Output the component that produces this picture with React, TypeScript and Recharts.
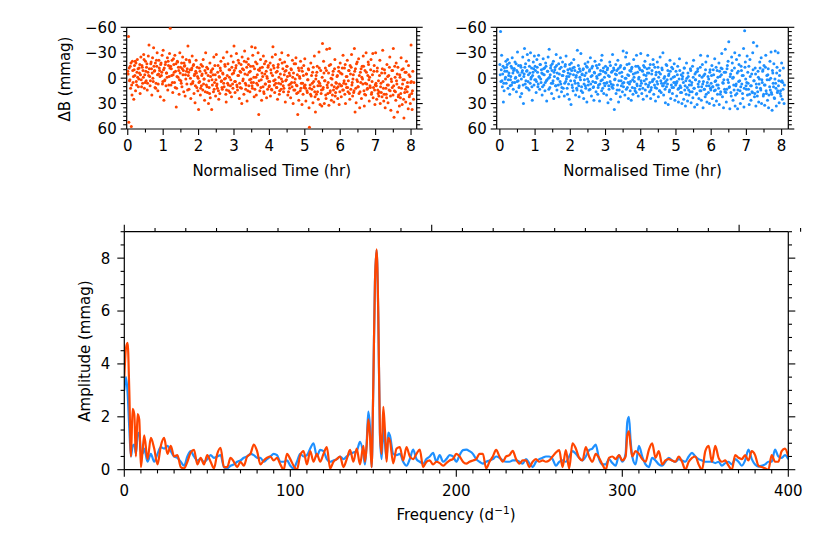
import { ScatterChart, Scatter, LineChart, Line, XAxis, YAxis } from 'recharts';

// observation times (hr), first frame set, shared by both stars
const TIME_HR = [
  0, 0.02, 0.03, 0.05, 0.07, 0.08, 0.1, 0.12, 0.13, 0.15, 0.17, 0.18, 0.2, 0.22, 0.23, 0.25, 0.27, 0.28, 0.3, 0.32, 0.33, 0.35, 0.37, 0.38, 0.4, 0.42, 0.43, 0.45, 0.47, 0.48, 0.5, 0.52, 0.53, 0.55, 0.57, 0.58, 0.6, 0.62, 0.63, 0.65, 0.67, 0.68, 0.7, 0.72, 0.73, 0.75, 0.77, 0.78, 0.8, 0.82, 0.83, 0.85, 0.87, 0.88, 0.9, 0.92, 0.93, 0.95, 0.97, 0.98,
  1, 1.02, 1.03, 1.05, 1.07, 1.08, 1.1, 1.12, 1.13, 1.15, 1.17, 1.18, 1.2, 1.22, 1.23, 1.25, 1.27, 1.28, 1.3, 1.32, 1.33, 1.35, 1.37, 1.38, 1.4, 1.42, 1.43, 1.45, 1.47, 1.48, 1.5, 1.52, 1.53, 1.55, 1.57, 1.58, 1.6, 1.62, 1.63, 1.65, 1.67, 1.68, 1.7, 1.72, 1.73, 1.75, 1.77, 1.78, 1.8, 1.82, 1.83, 1.85, 1.87, 1.88, 1.9, 1.92, 1.93, 1.95, 1.97, 1.98,
  2, 2.02, 2.03, 2.05, 2.07, 2.08, 2.1, 2.12, 2.13, 2.15, 2.17, 2.18, 2.2, 2.22, 2.23, 2.25, 2.27, 2.28, 2.3, 2.32, 2.33, 2.35, 2.37, 2.38, 2.4, 2.42, 2.43, 2.45, 2.47, 2.48, 2.5, 2.52, 2.53, 2.55, 2.57, 2.58, 2.6, 2.62, 2.63, 2.65, 2.67, 2.68, 2.7, 2.72, 2.73, 2.75, 2.77, 2.78, 2.8, 2.82, 2.83, 2.85, 2.87, 2.88, 2.9, 2.92, 2.93, 2.95, 2.97, 2.98,
  3, 3.02, 3.03, 3.05, 3.07, 3.08, 3.1, 3.12, 3.13, 3.15, 3.17, 3.18, 3.2, 3.22, 3.23, 3.25, 3.27, 3.28, 3.3, 3.32, 3.33, 3.35, 3.37, 3.38, 3.4, 3.42, 3.43, 3.45, 3.47, 3.48, 3.5, 3.52, 3.53, 3.55, 3.57, 3.58, 3.6, 3.62, 3.63, 3.65, 3.67, 3.68, 3.7, 3.72, 3.73, 3.75, 3.77, 3.78, 3.8, 3.82, 3.83, 3.85, 3.87, 3.88, 3.9, 3.92, 3.93, 3.95, 3.97, 3.98,
  4, 4.02, 4.03, 4.05, 4.07, 4.08, 4.1, 4.12, 4.13, 4.15, 4.17, 4.18, 4.2, 4.22, 4.23, 4.25, 4.27, 4.28, 4.3, 4.32, 4.33, 4.35, 4.37, 4.38, 4.4, 4.42, 4.43, 4.45, 4.47, 4.48, 4.5, 4.52, 4.53, 4.55, 4.57, 4.58, 4.6, 4.62, 4.63, 4.65, 4.67, 4.68, 4.7, 4.72, 4.73, 4.75, 4.77, 4.78, 4.8, 4.82, 4.83, 4.85, 4.87, 4.88, 4.9, 4.92, 4.93, 4.95, 4.97, 4.98,
  5, 5.02, 5.03, 5.05, 5.07, 5.08, 5.1, 5.12, 5.13, 5.15, 5.17, 5.18, 5.2, 5.22, 5.23, 5.25, 5.27, 5.28, 5.3, 5.32, 5.33, 5.35, 5.37, 5.38, 5.4, 5.42, 5.43, 5.45, 5.47, 5.48, 5.5, 5.52, 5.53, 5.55, 5.57, 5.58, 5.6, 5.62, 5.63, 5.65, 5.67, 5.68, 5.7, 5.72, 5.73, 5.75, 5.77, 5.78, 5.8, 5.82, 5.83, 5.85, 5.87, 5.88, 5.9, 5.92, 5.93, 5.95, 5.97, 5.98,
  6, 6.02, 6.03, 6.05, 6.07, 6.08, 6.1, 6.12, 6.13, 6.15, 6.17, 6.18, 6.2, 6.22, 6.23, 6.25, 6.27, 6.28, 6.3, 6.32, 6.33, 6.35, 6.37, 6.38, 6.4, 6.42, 6.43, 6.45, 6.47, 6.48, 6.5, 6.52, 6.53, 6.55, 6.57, 6.58, 6.6, 6.62, 6.63, 6.65, 6.67, 6.68, 6.7, 6.72, 6.73, 6.75, 6.77, 6.78, 6.8, 6.82, 6.83, 6.85, 6.87, 6.88, 6.9, 6.92, 6.93, 6.95, 6.97, 6.98,
  7, 7.02, 7.03, 7.05, 7.07, 7.08, 7.1, 7.12, 7.13, 7.15, 7.17, 7.18, 7.2, 7.22, 7.23, 7.25, 7.27, 7.28, 7.3, 7.32, 7.33, 7.35, 7.37, 7.38, 7.4, 7.42, 7.43, 7.45, 7.47, 7.48, 7.5, 7.52, 7.53, 7.55, 7.57, 7.58, 7.6, 7.62, 7.63, 7.65, 7.67, 7.68, 7.7, 7.72, 7.73, 7.75, 7.77, 7.78, 7.8, 7.82, 7.83, 7.85, 7.87, 7.88, 7.9, 7.92, 7.93, 7.95, 7.97, 7.98,
  8, 8.02, 8.03, 8.05, 8.07, 8.08,
];

// ΔB (mmag), orange star, first frame set
const DB_ORANGE = [
  -8, -49, 52, 3, -14, 12, 57, 20, -20, 5, 25, -10, -3, 15, -18, 8, -22, -1, 10, -12, -6, 18, -25, 2, -15, 6, -9, -28, 12, -4, -20, 3, -13, 14, -7, -26, -39, -2, 9, -17, -11, 20, -24, 4, -36, -8, 11, -18, 6, -14, -30, 15, -5, -21, -9, 22, -16, -3, -27, 7,
  -33, 26, -12, 2, -19, 9, -6, -24, 14, -15, -2, -29, -59, 8, -11, -21, 17, -4, -16, 5, -27, -8, 34, 12, -20, -1, -13, 19, -30, -6, 3, -18, 10, -25, -9, 16, -14, 21, -4, -22, 7, -11, -38, -7, 13, -19, 0, 24, -10, -26, 6, -15, 18, -3, 29, -8, -21, 11, -2, 15,
  37, -12, 4, 20, -16, 9, -5, 14, -22, 1, 26, -9, -30, 8, -13, 17, -3, 30, 11, -18, 23, -7, 37, 2, -11, 16, -25, 5, -4, 21, -28, 7, 12, -15, 25, -2, 18, -9, -20, 3, 13, -6, -24, 10, 1, -14, 19, 28, -31, 6, -17, 15, -1, -10, 9, -26, 22, -5, 12, -19,
  -38, 4, 17, -12, -29, 8, 14, -21, -3, 24, -8, 11, -16, 30, -25, 3, -10, 19, -32, 6, 13, -19, 27, -4, -23, 9, -7, 16, -14, 1, -37, 12, -27, 5, 22, -11, -36, -1, 20, -17, 8, -30, 43, -9, 15, -22, 2, 26, -13, 10, -26, 18, -5, 7, -20, 23, -2, 13, -15, 4,
  9, -18, 21, -6, 14, -25, -37, 3, -12, 17, -28, 6, 11, -8, 25, -16, -1, 19, -22, 7, 13, -30, 4, -11, 16, -4, -19, 28, -9, 2, -14, 20, -27, 8, 12, -3, 23, -10, 5, -21, 30, -6, -17, 14, 1, -24, 18, 9, 43, -12, 26, -2, 15, -20, 6, 31, -8, 19, -15, 11,
  -23, 12, 27, -5, 17, 2, -11, 35, 58, 8, -18, 21, 13, -7, 29, 4, -26, 16, 40, -3, 19, -14, 9, 25, -31, 6, 31, -9, 14, 33, -41, 11, -20, 30, 3, -12, 24, -34, 8, 18, -6, 32, -35, 15, -16, 26, 1, 20, -8, 28, 10, -22, 17, 5, 12, -3, 24, -13, 31, 7,
  -18, 9, 22, -5, 14, -27, 6, -12, 19, 30, -2, 11, -21, 16, 3, -9, 25, -15, 13, -28, 8, 21, -4, 17, -35, 40, -11, 29, 2, -19, 10, -23, 18, 35, -7, 5, 24, -14, 1, -26, 15, 33, -9, 20, -30, 7, 12, -3, -16, 27, -1, 11, -22, 19, 4, -29, 23, -8, 14, 31,
  -30, 9, 25, -12, 18, 3, 16, -21, 30, 6, -6, 22, -33, 12, 27, -10, 35, 1, 19, -16, 8, 29, -3, 14, -25, 21, 38, 4, 11, -9, -35, 46, 15, -1, 26, -18, 7, 40, -13, 20, 33, -4, 23, -24, 12, 31, 2, -11, 47, 17, -7, 28, -20, 10, 5, 36, -15, 22, -2, 30,
  -39, 18, 37, -8, 25, 5,
];

// ΔB (mmag), blue star, first frame set
const DB_BLUE = [
  -16, -55, 4, -27, 10, -5, 28, 15, -12, 1, -20, 6, -8, -22, 12, -3, -18, 19, 2, -14, 8, -24, -6, 13, -11, 5, -19, -1, 16, -9, -31, 3, -15, 9, -4, 22, -13, 18, -7, -25, 30, -2, -35, 7, -17, 11, -9, -28, 4, -21, 14, -6, -30, 1, -12, 26, -3, -19, 8, -26,
  -14, 2, 17, -22, -7, 10, -27, -1, 13, -16, 5, -10, 20, -5, -23, 8, -12, 15, -18, 3, 27, -8, -25, 0, -34, 11, -4, -15, 18, -9, 6, -20, 24, -2, -13, 9, -28, 14, -6, 1, -17, 22, -11, -24, 7, 16, -3, -19, 12, -8, 21, -14, 4, -26, -2, 19, -10, 7, 25, -16,
  -5, 31, -18, 8, -12, 15, -22, 3, -9, 20, -3, 12, -33, 6, -15, 22, -1, -8, -29, 10, -4, 17, -11, 24, 2, -17, 9, -6, 28, -13, -19, 4, 14, -10, -24, 7, 21, -3, -14, 11, 26, -7, -20, 5, 16, -2, -12, 19, 8, -16, 27, -5, 3, -21, -27, 12, -8, 18, -1, 9,
  -14, 6, 20, -10, 29, -3, 13, -19, 4, 25, -7, 10, -28, 8, -12, 37, 1, -5, 18, -9, 14, -21, 28, 3, -6, 22, -15, 9, -2, 16, -32, 5, -11, 20, -25, 0, -30, 11, -4, 24, -17, 7, 15, -8, 26, -13, 2, 19, -22, 4, 12, -6, 17, -27, 9, -14, 21, -1, 13, -10,
  -29, 6, 18, -8, 25, -15, 3, -20, 14, -3, 21, -11, -27, 8, -6, 16, -16, 24, 11, -9, 4, -22, 19, 1, -13, 27, -4, 12, -19, 7, 22, -7, 15, -25, 3, 17, -12, 9, -30, 20, 6, -2, 29, -16, 10, 2, -9, 31, -5, 14, -21, 24, 8, -13, 18, -1, 11, -17, 26, 5,
  -8, 21, 4, -14, 28, 12, -23, 9, 17, -4, 30, 1, -6, 25, -12, 14, 33, 3, -18, 11, 27, -2, 20, 8, 16, -9, 29, 5, -14, 23, -21, 12, 34, 2, -7, 19, 31, -11, 7, 24, -3, 15, -27, 26, 10, -16, 35, 4, 13, -5, 22, -19, 9, 28, -26, 17, 1, 30, -10, 12,
  6, -15, 24, 10, -4, 32, -23, 14, 3, 27, -9, 19, 8, -18, 31, -2, 16, -12, -29, 22, 5, 35, -7, 13, -34, 17, 28, -11, 2, -20, -43, 10, 36, -5, 21, -25, -18, 26, -1, 14, -30, 33, 9, -22, 18, 36, -8, 4, -27, 15, 30, -14, 7, -3, 24, -35, 34, -56, -19, 1,
  13, -26, 20, 6, -14, 31, -22, 9, 26, -5, 17, -30, -42, 3, 22, -12, 33, 7, -38, 16, -8, 28, 1, -19, 12, -24, 30, 5, -10, 21, -15, 32, 8, -27, 18, -3, 26, -11, 35, 2, -20, 14, -31, 19, 38, -6, 10, -17, 24, -32, 6, 33, -13, 17, -30, 3, 29, -9, 15, 21,
  -18, 25, 5, -12, 30, 8,
];

// observation times (hr), second frame set
const TIME_HR_2 = [
  0.01, 0.04, 0.06, 0.09, 0.11, 0.14, 0.16, 0.19, 0.21, 0.24, 0.26, 0.29, 0.31, 0.34, 0.36, 0.39, 0.41, 0.44, 0.46, 0.49, 0.51, 0.54, 0.56, 0.59, 0.61, 0.64, 0.66, 0.69, 0.71, 0.74, 0.76, 0.79, 0.81, 0.84, 0.86, 0.89, 0.91, 0.94, 0.96, 0.99,
  1.01, 1.04, 1.06, 1.09, 1.11, 1.14, 1.16, 1.19, 1.21, 1.24, 1.26, 1.29, 1.31, 1.34, 1.36, 1.39, 1.41, 1.44, 1.46, 1.49, 1.51, 1.54, 1.56, 1.59, 1.61, 1.64, 1.66, 1.69, 1.71, 1.74, 1.76, 1.79, 1.81, 1.84, 1.86, 1.89, 1.91, 1.94, 1.96, 1.99,
  2.01, 2.04, 2.06, 2.09, 2.11, 2.14, 2.16, 2.19, 2.21, 2.24, 2.26, 2.29, 2.31, 2.34, 2.36, 2.39, 2.41, 2.44, 2.46, 2.49, 2.51, 2.54, 2.56, 2.59, 2.61, 2.64, 2.66, 2.69, 2.71, 2.74, 2.76, 2.79, 2.81, 2.84, 2.86, 2.89, 2.91, 2.94, 2.96, 2.99,
  3.01, 3.04, 3.06, 3.09, 3.11, 3.14, 3.16, 3.19, 3.21, 3.24, 3.26, 3.29, 3.31, 3.34, 3.36, 3.39, 3.41, 3.44, 3.46, 3.49, 3.51, 3.54, 3.56, 3.59, 3.61, 3.64, 3.66, 3.69, 3.71, 3.74, 3.76, 3.79, 3.81, 3.84, 3.86, 3.89, 3.91, 3.94, 3.96, 3.99,
  4.01, 4.04, 4.06, 4.09, 4.11, 4.14, 4.16, 4.19, 4.21, 4.24, 4.26, 4.29, 4.31, 4.34, 4.36, 4.39, 4.41, 4.44, 4.46, 4.49, 4.51, 4.54, 4.56, 4.59, 4.61, 4.64, 4.66, 4.69, 4.71, 4.74, 4.76, 4.79, 4.81, 4.84, 4.86, 4.89, 4.91, 4.94, 4.96, 4.99,
  5.01, 5.04, 5.06, 5.09, 5.11, 5.14, 5.16, 5.19, 5.21, 5.24, 5.26, 5.29, 5.31, 5.34, 5.36, 5.39, 5.41, 5.44, 5.46, 5.49, 5.51, 5.54, 5.56, 5.59, 5.61, 5.64, 5.66, 5.69, 5.71, 5.74, 5.76, 5.79, 5.81, 5.84, 5.86, 5.89, 5.91, 5.94, 5.96, 5.99,
  6.01, 6.04, 6.06, 6.09, 6.11, 6.14, 6.16, 6.19, 6.21, 6.24, 6.26, 6.29, 6.31, 6.34, 6.36, 6.39, 6.41, 6.44, 6.46, 6.49, 6.51, 6.54, 6.56, 6.59, 6.61, 6.64, 6.66, 6.69, 6.71, 6.74, 6.76, 6.79, 6.81, 6.84, 6.86, 6.89, 6.91, 6.94, 6.96, 6.99,
  7.01, 7.04, 7.06, 7.09, 7.11, 7.14, 7.16, 7.19, 7.21, 7.24, 7.26, 7.29, 7.31, 7.34, 7.36, 7.39, 7.41, 7.44, 7.46, 7.49, 7.51, 7.54, 7.56, 7.59, 7.61, 7.64, 7.66, 7.69, 7.71, 7.74, 7.76, 7.79, 7.81, 7.84, 7.86, 7.89, 7.91, 7.94, 7.96, 7.99,
  8.01, 8.04,
];

const DB_ORANGE_2 = [
  -5, -12, 2, -18, 8, -9, -2, -15, -20, 4, -7, -11, 1, -16, -4, 10, -13, -1, -22, 5, -8, -17, 6, -3, -11, 3, -19, -6, 0, -14, -9, 12, -21, -4, 7, -12, -2, -18, -7, 4,
  -10, 3, -16, -6, -1, -20, 8, -12, -14, -3, 5, -23, -7, 11, -17, -2, -19, -9, 2, -13, 6, -11, -4, -18, -15, 1, -8, 14, -3, -21, -10, 7, -12, 4, -16, -5, 9, -6, -13, 0,
  5, -8, 12, -3, -14, 7, 1, 16, -6, 10, -11, 3, 18, -2, -9, 8, -4, 13, -15, 2, 9, -7, 15, -1, -12, 4, 11, -5, 6, -16, 0, 14, -3, 8, -10, 17, 2, -13, 7, -6,
  -9, 4, -15, 10, -3, -18, 6, -7, 12, -11, 1, -20, -5, 8, -13, 15, -16, 2, -8, 5, 9, -14, -1, 13, -19, 6, -4, -10, 3, -12, 11, -6, -2, 16, -17, 7, -8, 0, -13, 10,
  4, -10, 13, -3, -15, 8, 2, -7, 11, -13, 6, 15, -5, 1, -18, 9, 12, -8, 3, -14, -2, 16, -6, 7, -11, 10, -1, 14, 5, -17, 8, -4, 17, -9, 0, 12, -12, 6, -3, 9,
  8, -5, 15, 2, -10, 12, 19, -3, 6, -13, 10, 22, 1, -7, 16, 4, -12, 9, 18, -1, 13, -6, 3, 20, -9, 11, 5, -15, 17, 0, 8, -4, 14, -11, 21, 6, -2, 10, -8, 16,
  -6, 9, -12, 14, 3, -16, 7, -2, 11, -9, 18, -5, -13, 5, 1, 15, -8, 12, -17, 4, 10, -3, 16, -11, -1, 7, -14, 19, 6, -7, 13, -19, 2, 9, -10, 17, -4, 11, -15, 8,
  6, -8, 14, 21, -3, 10, 17, -11, 4, 19, -6, 12, 23, -2, 8, -13, 15, 1, -9, 20, 9, -14, 16, 3, -5, 22, 11, -1, 18, -10, 7, 25, 2, 13, -7, 16, 10, -4, 20, 5,
  4, 15,
];

const DB_BLUE_2 = [
  -4, -10, 3, -14, 6, -8, -1, -13, -16, 2, -6, 9, -2, -12, 5, -9, -11, 0, -17, 4, -7, 11, -3, -15, 1, -9, 8, -5, -13, 3, -8, 12, -4, -14, 6, -1, 10, -7, -11, 2,
  -9, 4, -13, 7, -2, -16, 1, -6, 10, -11, -4, 5, -14, 2, -8, 13, -1, -12, 6, -17, 3, -7, -10, 9, -15, 0, 8, -5, 4, -13, 11, -3, -8, 6, -16, 1, 12, -6, -2, -11,
  3, -9, 11, -4, -13, 6, -1, 14, -7, 9, -11, 2, 15, -5, -10, 7, -3, 12, -14, 1, 8, -8, 13, -2, -12, 4, 10, -6, 5, -15, 0, 11, -4, 7, -9, 15, 2, -12, 6, -7,
  -6, 5, -12, 9, -2, -15, 7, -8, 12, -10, 2, -16, -4, 8, -11, 14, -13, 3, -7, 6, 10, -12, 0, 13, -16, 5, -3, -9, 4, -11, 11, -5, -1, 15, -14, 7, -7, 1, -12, 9,
  3, -9, 12, -4, -13, 7, 1, -6, 10, -12, 5, 14, -5, 2, -16, 8, 11, -7, 4, -13, -1, 15, -5, 6, -10, 9, 0, 13, 4, -15, 7, -3, 16, -8, 1, 11, -11, 5, -2, 8,
  6, -4, 13, 1, -9, 11, 17, -2, 5, -12, 9, 19, 0, -6, 14, 3, -11, 8, 16, -1, 12, -5, 2, 18, -8, 10, 4, -13, 15, -1, 7, -3, 13, -10, 19, 5, -2, 9, -7, 14,
  -3, 10, -10, 15, 4, -13, 8, -1, 12, -8, 19, -4, -11, 6, 2, 16, -7, 13, -15, 5, 11, -2, 17, -9, 0, 8, -12, 20, 7, -6, 14, -16, 3, 10, -9, 18, -3, 12, -13, 9,
  5, -7, 13, 19, -2, 9, 16, -10, 3, 18, -5, 11, 21, -1, 7, -12, 14, 2, -8, 19, 8, -13, 15, 2, -4, 20, 10, 0, 17, -9, 6, 23, 1, 12, -6, 15, 9, -3, 18, 4,
  3, 13,
];

// amplitude spectrum: frequency (1/d) and amplitude (mmag)
const FREQ = [
  0, 1, 2, 3, 4, 5, 6, 7, 8, 9, 10, 11, 12,
  14, 16, 18, 20, 22, 24, 26, 28, 30, 32,
  34, 36, 38, 40, 42, 44, 46, 48, 50, 52,
  54, 56, 58, 60, 62, 64, 66, 68, 70, 72,
  74, 76, 78, 80, 82, 84, 86, 88, 90, 92,
  94, 96, 98, 100, 102, 104, 106, 108, 110, 112,
  114, 116, 118, 120, 122, 124, 126, 128, 130, 132,
  134, 136, 138, 140, 142, 144,
  145, 146, 147, 148, 149, 150, 151, 152, 153, 154, 155, 156, 157, 158, 159, 160,
  162, 164, 166, 168, 170, 172, 174, 176, 178, 180,
  182, 184, 186, 188, 190, 192, 194, 196, 198, 200,
  202, 204, 206, 208, 210, 212, 214, 216, 218, 220,
  222, 224, 226, 228, 230, 232, 234, 236, 238, 240,
  242, 244, 246, 248, 250, 252, 254, 256, 258, 260,
  262, 264, 266, 268, 270, 272, 274, 276, 278, 280,
  282, 284, 286, 288, 290, 292, 294, 296, 298, 300,
  302, 303, 304, 305, 306,
  308, 310, 312, 314, 316, 318, 320, 322, 324, 326,
  328, 330, 332, 334, 336, 338, 340, 342, 344, 346,
  348, 350, 352, 354, 356, 358, 360, 362, 364, 366,
  368, 370, 372, 374, 376, 378, 380, 382, 384, 386,
  388, 390, 392, 394, 396, 398, 400,
];

const AMP_ORANGE = [
  3.5, 4.6, 4.8, 3.0, 0.5, 2.3, 2.1, 0.5, 2.1, 1.9, 0.1, 0.7, 1.3,
  0.4, 1.2, 0.8, 0.2, 0.9, 1.2, 0.6, 0.9, 0.5, 0.55,
  0.1, 0.05, 0.3, 0.65, 0.75, 0.2, 0.45, 0.2, 0.55, 0.3,
  0.05, 0.6, 0.83, 0.1, 0.1, 0.45, 0.3, 0.1, 0.3, 0.15,
  0.5, 0.6, 0.95, 0.7, 0.2, 0.35, 0.45, 0.5, 0.35, 0.45,
  0.2, 0.0, 0.6, 0.4, 0.15, 0.0, 0.55, 0.7, 0.2, 0.7,
  0.3, 0.6, 0.3, 0.6, 0.85, 0.05, 0.3, 0.4, 0.5, 0.1,
  0.4, 0.75, 0.3, 0.8, 0.2, 0.9,
  0.3, 0.9, 1.9, 1.3, 0.1, 3.2, 7.1, 8.33, 5.9, 1.4, 0.6, 2.38, 1.5, 0.3, 1.2, 1.1,
  0.24, 0.8, 0.85, 0.35, 0.85, 0.5, 0.4, 0.6, 0.76, 0.1,
  0.3, 0.35, 0.2, 0.3, 0.25, 0.15, 0.25, 0.35, 0.4, 0.6,
  0.5, 0.3, 0.23, 0.3, 0.35, 0.4, 0.6, 0.6, 0.05, 0.3,
  0.5, 0.75, 0.5, 0.3, 0.5, 0.55, 0.71, 0.4, 0.23, 0.35,
  0.35, 0.1, 0.3, 0.4, 0.3, 0.35, 0.3, 0.35, 0.5, 0.65,
  0.74, 0.1, 0.74, 0.05, 1.0, 0.8, 0.45, 0.35, 0.85, 0.5,
  0.3, 0.6, 0.45, 0.2, 0.0, 0.45, 0.5, 0.4, 0.55, 0.35,
  0.5, 1.3, 1.45, 0.9, 0.5,
  0.7, 0.6, 0.4, 0.3, 0.75, 1.0, 0.45, 0.7, 0.2, 0.35,
  0.4, 0.35, 0.3, 0.5, 0.3, 0.0, 0.3, 0.45, 0.5, 0.2,
  0.0, 0.7, 0.9, 0.3, 0.9, 0.45, 0.3, 0.35, 0.15, 0.0,
  0.55, 0.45, 0.4, 0.55, 0.35, 0.7, 0.55, 0.15, 0.1, 0.05,
  0.0, 0.55, 0.3, 0.3, 0.7, 0.8, 0.5,
];

const AMP_BLUE = [
  3.0, 3.5, 2.9, 1.6, 0.5, 0.9, 0.95, 0.6, 1.3, 1.4, 0.7, 0.6, 0.8,
  0.3, 0.6, 0.3, 0.6, 0.85, 0.8, 0.9, 0.7, 0.5, 0.45,
  0.3, 0.15, 0.5, 0.7, 0.5, 0.35, 0.4, 0.3, 0.4, 0.55,
  0.45, 0.5, 0.55, 0.1, 0.05, 0.15, 0.2, 0.3, 0.35, 0.45,
  0.5, 0.6, 0.55, 0.45, 0.45, 0.3, 0.4, 0.5, 0.6, 0.55,
  0.3, 0.3, 0.35, 0.15, 0.05, 0.3, 0.6, 0.5, 0.55, 0.8,
  1.0, 0.5, 0.75, 0.7, 0.4, 0.3, 0.35, 0.4, 0.5, 0.4,
  0.5, 0.6, 0.65, 0.7, 1.05, 0.6,
  0.2, 1.0, 2.2, 1.6, 0.1, 3.2, 7.1, 8.3, 5.8, 1.3, 0.4, 1.6, 1.0, 0.4, 1.4, 1.3,
  0.6, 0.55, 0.6, 0.3, 0.15, 0.4, 0.76, 0.4, 0.3, 0.23,
  0.4, 0.5, 0.64, 0.3, 0.55, 0.3, 0.4, 0.55, 0.5, 0.3,
  0.55, 0.74, 0.76, 0.7, 0.6, 0.4, 0.3, 0.23, 0.3, 0.35,
  0.4, 0.5, 0.45, 0.35, 0.3, 0.3, 0.35, 0.35, 0.3, 0.23,
  0.4, 0.25, 0.1, 0.3, 0.4, 0.45, 0.5, 0.5, 0.4, 0.15,
  0.3, 0.35, 0.3, 0.5, 0.7, 0.6, 0.45, 0.35, 0.5, 0.74,
  0.8, 0.95, 0.4, 0.2, 0.2, 0.4, 0.25, 0.15, 0.55, 0.3,
  0.6, 1.8, 2.0, 1.1, 0.5,
  0.2, 0.9, 0.5, 0.2, 0.1, 0.45, 0.35, 0.2, 0.15, 0.3,
  0.45, 0.35, 0.3, 0.4, 0.35, 0.3, 0.5, 0.64, 0.5, 0.4,
  0.35, 0.3, 0.3, 0.3, 0.25, 0.3, 0.15, 0.25, 0.3, 0.2,
  0.4, 0.3, 0.15, 0.35, 0.76, 0.4, 0.2, 0.12, 0.15, 0.2,
  0.3, 0.3, 0.76, 0.5, 0.45, 0.55, 0.4,
];

// tick positions
const TIME_MAJOR = [0, 1, 2, 3, 4, 5, 6, 7, 8];
const TIME_TICKS = [0, 0.5, 1, 1.5, 2, 2.5, 3, 3.5, 4, 4.5, 5, 5.5, 6, 6.5, 7, 7.5, 8];
const DB_MAJOR = [-60, -30, 0, 30, 60];
const DB_TICKS = [-60, -55, -50, -45, -40, -35, -30, -25, -20, -15, -10, -5, 0, 5, 10, 15, 20, 25, 30, 35, 40, 45, 50, 55, 60];
const FREQ_MAJOR = [0, 100, 200, 300, 400];
const FREQ_TICKS = [0, 10, 20, 30, 40, 50, 60, 70, 80, 90, 100, 110, 120, 130, 140, 150, 160, 170, 180, 190, 200, 210, 220, 230, 240, 250, 260, 270, 280, 290, 300, 310, 320, 330, 340, 350, 360, 370, 380, 390, 400];
const AMP_MAJOR = [0, 2, 4, 6, 8];
const AMP_TICKS = [0, 0.5, 1, 1.5, 2, 2.5, 3, 3.5, 4, 4.5, 5, 5.5, 6, 6.5, 7, 7.5, 8, 8.5, 9];

const ORANGE = '#FF4500';
const BLUE = '#1E90FF';
const FONT = '"DejaVu Sans", sans-serif';
const AXIS = { stroke: '#000', strokeWidth: 1.2 };

const fmt = (v: number) => (v < 0 ? '\u2212' + Math.abs(v) : String(v));

// draws matplotlib-style outward ticks; labels only on majors of labelled sides
const FrameTick = (props: any) => {
  const { x, y, payload, side, majors, major, minor, gap, label } = props;
  const v = payload.value;
  const isMajor = majors.includes(v);
  const len = isMajor ? major : minor;
  let line = null;
  let text = null;
  if (side === 'bottom') {
    line = <line x1={x} y1={y} x2={x} y2={y + len} />;
    if (label && isMajor)
      text = <text x={x} y={y + gap} textAnchor="middle">{fmt(v)}</text>;
  } else if (side === 'top') {
    line = <line x1={x} y1={y} x2={x} y2={y - len} />;
  } else if (side === 'left') {
    line = <line x1={x} y1={y} x2={x - len} y2={y} />;
    if (label && isMajor)
      text = <text x={x - gap} y={y + 5.4} textAnchor="end">{fmt(v)}</text>;
  } else {
    line = <line x1={x} y1={y} x2={x + len} y2={y} />;
  }
  return (
    <g>
      <g stroke="#000" strokeWidth={1.1}>{line}</g>
      {text && <g fill="#000" stroke="none" fontSize={15} fontFamily={FONT}>{text}</g>}
    </g>
  );
};

// axes get 1px of room (a zero-size axis is not drawn), so margins are 1px smaller
const axisProps = { allowDataOverflow: true, interval: 0 as const, tickSize: 0, tickMargin: 0, tickLine: false, axisLine: AXIS };

const timeData = (times: number[], values: number[]) =>
  times.map((t, i) => ({ t, db: values[i] })).filter((d) => d.db !== undefined);

function LightCurve({ values, values2, color, left, right, domain }: any) {
  const points = [...timeData(TIME_HR, values), ...timeData(TIME_HR_2, values2)];
  const tickX = (side: string, label: boolean) => (
    <FrameTick side={side} majors={TIME_MAJOR} major={6} minor={3.5} gap={21.5} label={label} />
  );
  const tickY = (side: string, label: boolean) => (
    <FrameTick side={side} majors={DB_MAJOR} major={6} minor={3.5} gap={10} label={label} />
  );
  return (
    <div style={{ position: 'absolute', left: 0, top: 0 }}>
      <ScatterChart width={830} height={553} margin={{ top: 26.3, bottom: 423, left: left - 1, right: right - 1 }}>
        <XAxis xAxisId="b" type="number" dataKey="t" domain={domain} ticks={TIME_TICKS} height={1} {...axisProps} tick={tickX('bottom', true)} />
        <XAxis xAxisId="t" orientation="top" type="number" domain={domain} ticks={TIME_TICKS} height={1} {...axisProps} tick={tickX('top', false)} />
        <YAxis yAxisId="l" type="number" dataKey="db" reversed domain={[-60, 60]} ticks={DB_TICKS} width={1} {...axisProps} tick={tickY('left', true)} />
        <YAxis yAxisId="r" orientation="right" type="number" reversed domain={[-60, 60]} ticks={DB_TICKS} width={1} {...axisProps} tick={tickY('right', false)} />
        <Scatter xAxisId="b" yAxisId="l" data={points} isAnimationActive={false}
          shape={(p: any) => <circle cx={p.cx} cy={p.cy} r={1.5} fill={color} />} />
      </ScatterChart>
    </div>
  );
}

export default function App() {
  const spectrum = FREQ.map((f, i) => ({ f, orange: AMP_ORANGE[i], blue: AMP_BLUE[i] }));
  const tickF = (side: string, label: boolean) => (
    <FrameTick side={side} majors={FREQ_MAJOR} major={7} minor={3.7} gap={26.5} label={label} />
  );
  const tickA = (side: string, label: boolean) => (
    <FrameTick side={side} majors={AMP_MAJOR} major={7} minor={3.7} gap={14} label={label} />
  );

  return (
    <div style={{ position: 'absolute', left: 0, top: 0, width: 830, height: 553, background: '#fff', fontFamily: FONT }}>
      <LightCurve values={DB_ORANGE} values2={DB_ORANGE_2} color={ORANGE} left={126.7} right={413.3} domain={[-0.03, 8.16]} />
      <LightCurve values={DB_BLUE} values2={DB_BLUE_2} color={BLUE} left={496.7} right={41.7} domain={[-0.09, 8.19]} />

      <div style={{ position: 'absolute', left: 0, top: 0 }}>
        <LineChart width={830} height={553} data={spectrum} margin={{ top: 230.7, bottom: 82.3, left: 123.3, right: 40.7 }}>
          <XAxis xAxisId="b" type="number" dataKey="f" domain={[0, 400]} ticks={FREQ_TICKS} height={1} {...axisProps} tick={tickF('bottom', true)} />
          <XAxis xAxisId="t" orientation="top" type="number" domain={[0, 400]} ticks={FREQ_TICKS} height={1} {...axisProps} tick={tickF('top', false)} />
          <YAxis yAxisId="l" type="number" domain={[0, 9]} ticks={AMP_TICKS} width={1} {...axisProps} tick={tickA('left', true)} />
          <YAxis yAxisId="r" orientation="right" type="number" domain={[0, 9]} ticks={AMP_TICKS} width={1} {...axisProps} tick={tickA('right', false)} />
          <Line xAxisId="b" yAxisId="l" type="monotone" dataKey="blue" stroke={BLUE} strokeWidth={2.2} dot={false} isAnimationActive={false} />
          <Line xAxisId="b" yAxisId="l" type="monotone" dataKey="orange" stroke={ORANGE} strokeWidth={2.2} dot={false} isAnimationActive={false} />
        </LineChart>
      </div>

      {/* axis titles */}
      <svg width={830} height={553} style={{ position: 'absolute', left: 0, top: 0, pointerEvents: 'none' }}>
        <g fontFamily={FONT} fontSize={15} fill="#000" textAnchor="middle">
          <text x={271.7} y={176}>Normalised Time (hr)</text>
          <text x={642.5} y={176}>Normalised Time (hr)</text>
          <text transform="translate(69.5,79) rotate(-90)">ΔB (mmag)</text>
          <text transform="translate(89.7,351) rotate(-90)">Amplitude (mmag)</text>
          <text x={456} y={519.5}>
            Frequency (d<tspan fontSize={10.5} dy={-6}>{'\u2212'}1</tspan><tspan dy={6}>)</tspan>
          </text>
        </g>
      </svg>
    </div>
  );
}
